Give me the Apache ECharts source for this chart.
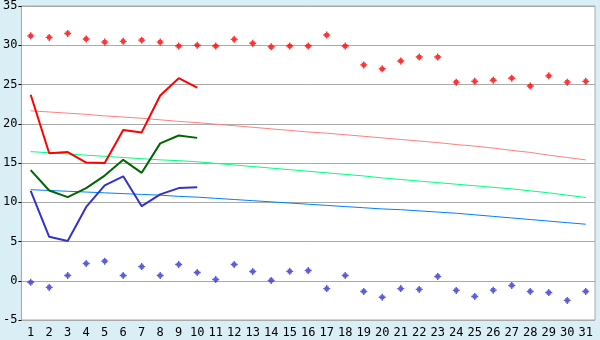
<!DOCTYPE html>
<html><head><meta charset="utf-8">
<script src="https://cdn.jsdelivr.net/npm/echarts@6/dist/echarts.min.js"></script>
<style>html,body{margin:0;padding:0;background:#d9eef5}#c{width:600px;height:340px}</style>
</head><body><div id="c"></div>
<script>
const days = ['1','2','3','4','5','6','7','8','9','10','11','12','13','14','15','16','17','18','19','20','21','22','23','24','25','26','27','28','29','30','31'];
const yTicks = [-5, 35, 5];
const maxRecord = [31.2,31.0,31.5,30.8,30.4,30.5,30.65,30.4,29.9,30.0,29.9,30.75,30.25,29.8,29.9,29.9,31.3,29.9,27.5,27.0,28.0,28.5,28.5,25.3,25.4,25.55,25.8,24.8,26.1,25.3,25.4];
const minRecord = [-0.2,-0.85,0.67,2.2,2.5,0.67,1.8,0.67,2.07,1.05,0.16,2.07,1.18,0.04,1.2,1.3,-1.0,0.67,-1.36,-2.1,-1.0,-1.1,0.55,-1.23,-2.0,-1.2,-0.6,-1.36,-1.5,-2.5,-1.36];
const maxObs = [23.7,16.25,16.4,15.05,15.0,19.2,18.9,23.6,25.8,24.6];
const meanObs = [14.1,11.5,10.66,11.8,13.4,15.4,13.75,17.5,18.5,18.2];
const minObs = [11.45,5.6,5.07,9.4,12.15,13.3,9.5,11.0,11.8,11.9];
const maxNormal = [21.65,21.5,21.35,21.2,21.0,20.85,20.7,20.5,20.3,20.15,19.95,19.75,19.55,19.35,19.15,18.95,18.8,18.6,18.4,18.2,18.0,17.8,17.6,17.35,17.15,16.9,16.6,16.35,16.0,15.7,15.4];
const meanNormal = [16.45,16.3,16.15,16.0,15.85,15.7,15.55,15.4,15.3,15.15,14.95,14.75,14.55,14.35,14.15,13.95,13.75,13.55,13.35,13.1,12.9,12.7,12.5,12.3,12.1,11.9,11.7,11.45,11.2,10.9,10.6];
const minNormal = [11.6,11.5,11.4,11.3,11.2,11.1,11.0,10.9,10.75,10.65,10.5,10.35,10.2,10.05,9.9,9.75,9.6,9.45,9.3,9.15,9.05,8.9,8.75,8.6,8.4,8.2,8.0,7.8,7.6,7.4,7.2];

const font = 'DejaVu Sans Mono';
const marker = 'path://M2,0H3V1H4V2H5V3H4V4H3V5H2V4H1V3H0V2H1V1H2Z';
const chart = echarts.init(document.getElementById('c'), null, {renderer:'canvas'});
function line(data, color, width, z){
  return {type:'line', data, symbol:'none', z, lineStyle:{color, width}, itemStyle:{color}, animation:false, silent:true};
}
function pts(data, color){
  return {type:'scatter', data, symbol:marker, symbolSize:7, itemStyle:{color}, z:5, animation:false, silent:true};
}
chart.setOption({
  backgroundColor:'#d9eef5',
  animation:false,
  grid:{left:20, right:5, top:5, bottom:20, show:true, backgroundColor:'#ffffff', borderColor:'#aaaaaa', borderWidth:1},
  xAxis:{type:'category', data:days, boundaryGap:true,
    axisLine:{lineStyle:{color:'#aaaaaa'}},
    axisTick:{alignWithLabel:true, length:5, lineStyle:{color:'#000'}},
    axisLabel:{color:'#000', fontFamily:font, fontSize:12, margin:7, interval:0},
    splitLine:{show:false}},
  yAxis:{type:'value', min:yTicks[0], max:yTicks[1], interval:yTicks[2],
    axisLine:{show:true, lineStyle:{color:'#aaaaaa'}},
    axisTick:{show:true, length:3, lineStyle:{color:'#000'}},
    axisLabel:{color:'#000', fontFamily:font, fontSize:12, margin:4},
    splitLine:{lineStyle:{color:'#aaaaaa', width:1}}},
  series:[
    line(maxNormal,'#ff8080',1,2),
    line(meanNormal,'#00ff80',1,2),
    line(minNormal,'#0080ff',1,2),
    line(maxObs,'#ff0000',2,3),
    line(meanObs,'#006600',2,3),
    line(minObs,'#3333cc',2,3),
    pts(maxRecord,'#ff0000'),
    pts(minRecord,'#3333cc')
  ]
});
</script></body></html>
